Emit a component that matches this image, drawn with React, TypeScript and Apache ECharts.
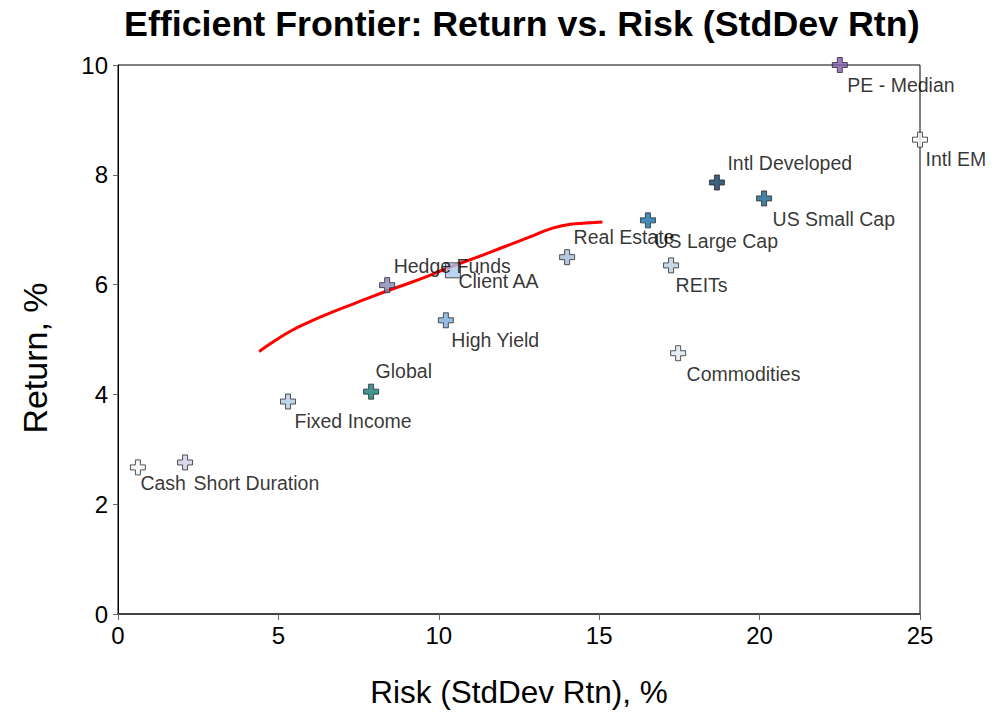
import React, { useEffect, useRef } from "react";
import * as echarts from "echarts";

const assetNames = [
  "Cash", "Short Duration", "Fixed Income", "Global", "High Yield", "Hedge Funds",
  "Client AA", "Real Estate", "US Large Cap", "REITs", "Commodities",
  "Intl Developed", "US Small Cap", "PE - Median", "Intl EM",
];
const riskValues = [0.62, 2.09, 5.3, 7.89, 10.22, 8.39, 10.44, 14.0, 16.52, 17.24, 17.46, 18.67, 20.14, 22.5, 25.0];
const returnValues = [2.67, 2.76, 3.87, 4.05, 5.35, 5.99, 6.26, 6.5, 7.17, 6.35, 4.75, 7.86, 7.57, 10.0, 8.64];

const frontierRisk = [4.4, 4.9, 5.4, 6.0, 6.6, 7.3, 8.0, 8.8, 9.6, 10.4, 11.2, 12.0, 12.8, 13.5, 14.1, 14.6, 15.1];
const frontierReturn = [4.78, 4.98, 5.16, 5.33, 5.48, 5.64, 5.8, 5.97, 6.14, 6.33, 6.5, 6.68, 6.86, 7.02, 7.1, 7.12, 7.14];

const xTicks = [0, 5, 10, 15, 20, 25];
const yTicks = [0, 2, 4, 6, 8, 10];

const colors: Record<string, string> = {
  "Cash": "#f4f6f8",
  "Short Duration": "#cfd0e6",
  "Fixed Income": "#b4c8e2",
  "Global": "#117a7a",
  "High Yield": "#78acd6",
  "Hedge Funds": "#8486b8",
  "Client AA": "#a9c9ee",
  "Real Estate": "#a6bcda",
  "US Large Cap": "#1571aa",
  "REITs": "#bdd0e2",
  "Commodities": "#dde8f1",
  "Intl Developed": "#0d3a5c",
  "US Small Cap": "#17608f",
  "PE - Median": "#7f5aaf",
  "Intl EM": "#f8fafa",
};

// label offsets (dx, dy) from the marker centre
const labelOffsets: Record<string, [number, number]> = {
  "Cash": [3, 16],
  "Short Duration": [9, 21],
  "Fixed Income": [7, 20],
  "Global": [5, -20],
  "High Yield": [6, 20],
  "Hedge Funds": [7, -19],
  "Client AA": [6, 11],
  "Real Estate": [7, -20],
  "US Large Cap": [7, 21],
  "REITs": [5, 20],
  "Commodities": [9, 21],
  "Intl Developed": [11, -19],
  "US Small Cap": [9, 21],
  "PE - Median": [8, 20],
  "Intl EM": [6, 20],
};

const CROSS = "path://M4,0H8V4H12V8H8V12H4V8H0V4H4Z";
const FONT = "Liberation Sans";

export default function App() {
  const ref = useRef<HTMLDivElement>(null);
  useEffect(() => {
    if (!ref.current) return;
    const chart = echarts.init(ref.current, undefined, { renderer: "svg" });
    const points = assetNames.map((name, i) => {
      const off = labelOffsets[name];
      const isSquare = name === "Client AA";
      return {
        name,
        value: [riskValues[i], returnValues[i]],
        symbol: isSquare ? "rect" : CROSS,
        symbolSize: 15,
        itemStyle: { color: colors[name], borderColor: "#2a2a2a", borderWidth: 1 },
        label: {
          show: true,
          formatter: name,
          position: [7.5 + off[0], 7.5 + off[1]],
          align: "left",
          verticalAlign: "middle",
          color: "#000",
          fontSize: 19.5,
          fontFamily: FONT,
        },
      };
    });
    chart.setOption({
      animation: false,
      backgroundColor: "#fff",
      title: {
        text: "Efficient Frontier: Return vs. Risk (StdDev Rtn)",
        left: 119,
        top: 1,
        textStyle: { fontSize: 35.8, fontWeight: "bold", fontFamily: FONT, color: "#000" },
      },
      grid: {
        left: 118, right: 85, top: 65, bottom: 97,
        show: true, borderColor: "#000", borderWidth: 1, backgroundColor: "transparent",
      },
      graphic: [
        {
          type: "text",
          x: 35,
          y: 358,
          rotation: Math.PI / 2,
          style: {
            text: "Return, %",
            fontSize: 34,
            fontFamily: FONT,
            fill: "#000",
            align: "center",
            verticalAlign: "middle",
          },
        },
      ],
      xAxis: {
        type: "value",
        min: 0, max: 25, interval: 5,
        name: "Risk (StdDev Rtn), %",
        nameLocation: "middle",
        nameGap: 62,
        nameTextStyle: { fontSize: 31.5, fontFamily: FONT, color: "#000" },
        axisLine: { show: true, lineStyle: { color: "#444", width: 2 } },
        axisTick: { show: true, length: 6, lineStyle: { color: "#666" } },
        axisLabel: {
          fontSize: 24, fontFamily: FONT, color: "#000", margin: 9,
          formatter: (v: number) => (xTicks.includes(v) ? String(v) : ""),
        },
        splitLine: { show: false },
      },
      yAxis: {
        type: "value",
        min: 0, max: 10, interval: 2,
        axisLine: { show: true, lineStyle: { color: "#000", width: 1 } },
        axisTick: { show: true, length: 5, lineStyle: { color: "#666" } },
        axisLabel: {
          fontSize: 24, fontFamily: FONT, color: "#000", margin: 10,
          formatter: (v: number) => (yTicks.includes(v) ? String(v) : ""),
        },
        splitLine: { show: false },
      },
      series: [
        {
          type: "line",
          data: frontierRisk.map((r, i) => [r, frontierReturn[i]]),
          smooth: true,
          showSymbol: false,
          lineStyle: { color: "#ff0000", width: 3 },
          z: 2,
        },
        {
          type: "scatter",
          data: points,
          z: 3,
        },
      ],
    });
    return () => chart.dispose();
  }, []);
  return <div ref={ref} style={{ width: 1005, height: 713, position: "absolute", left: 0, top: 0 }} />;
}
